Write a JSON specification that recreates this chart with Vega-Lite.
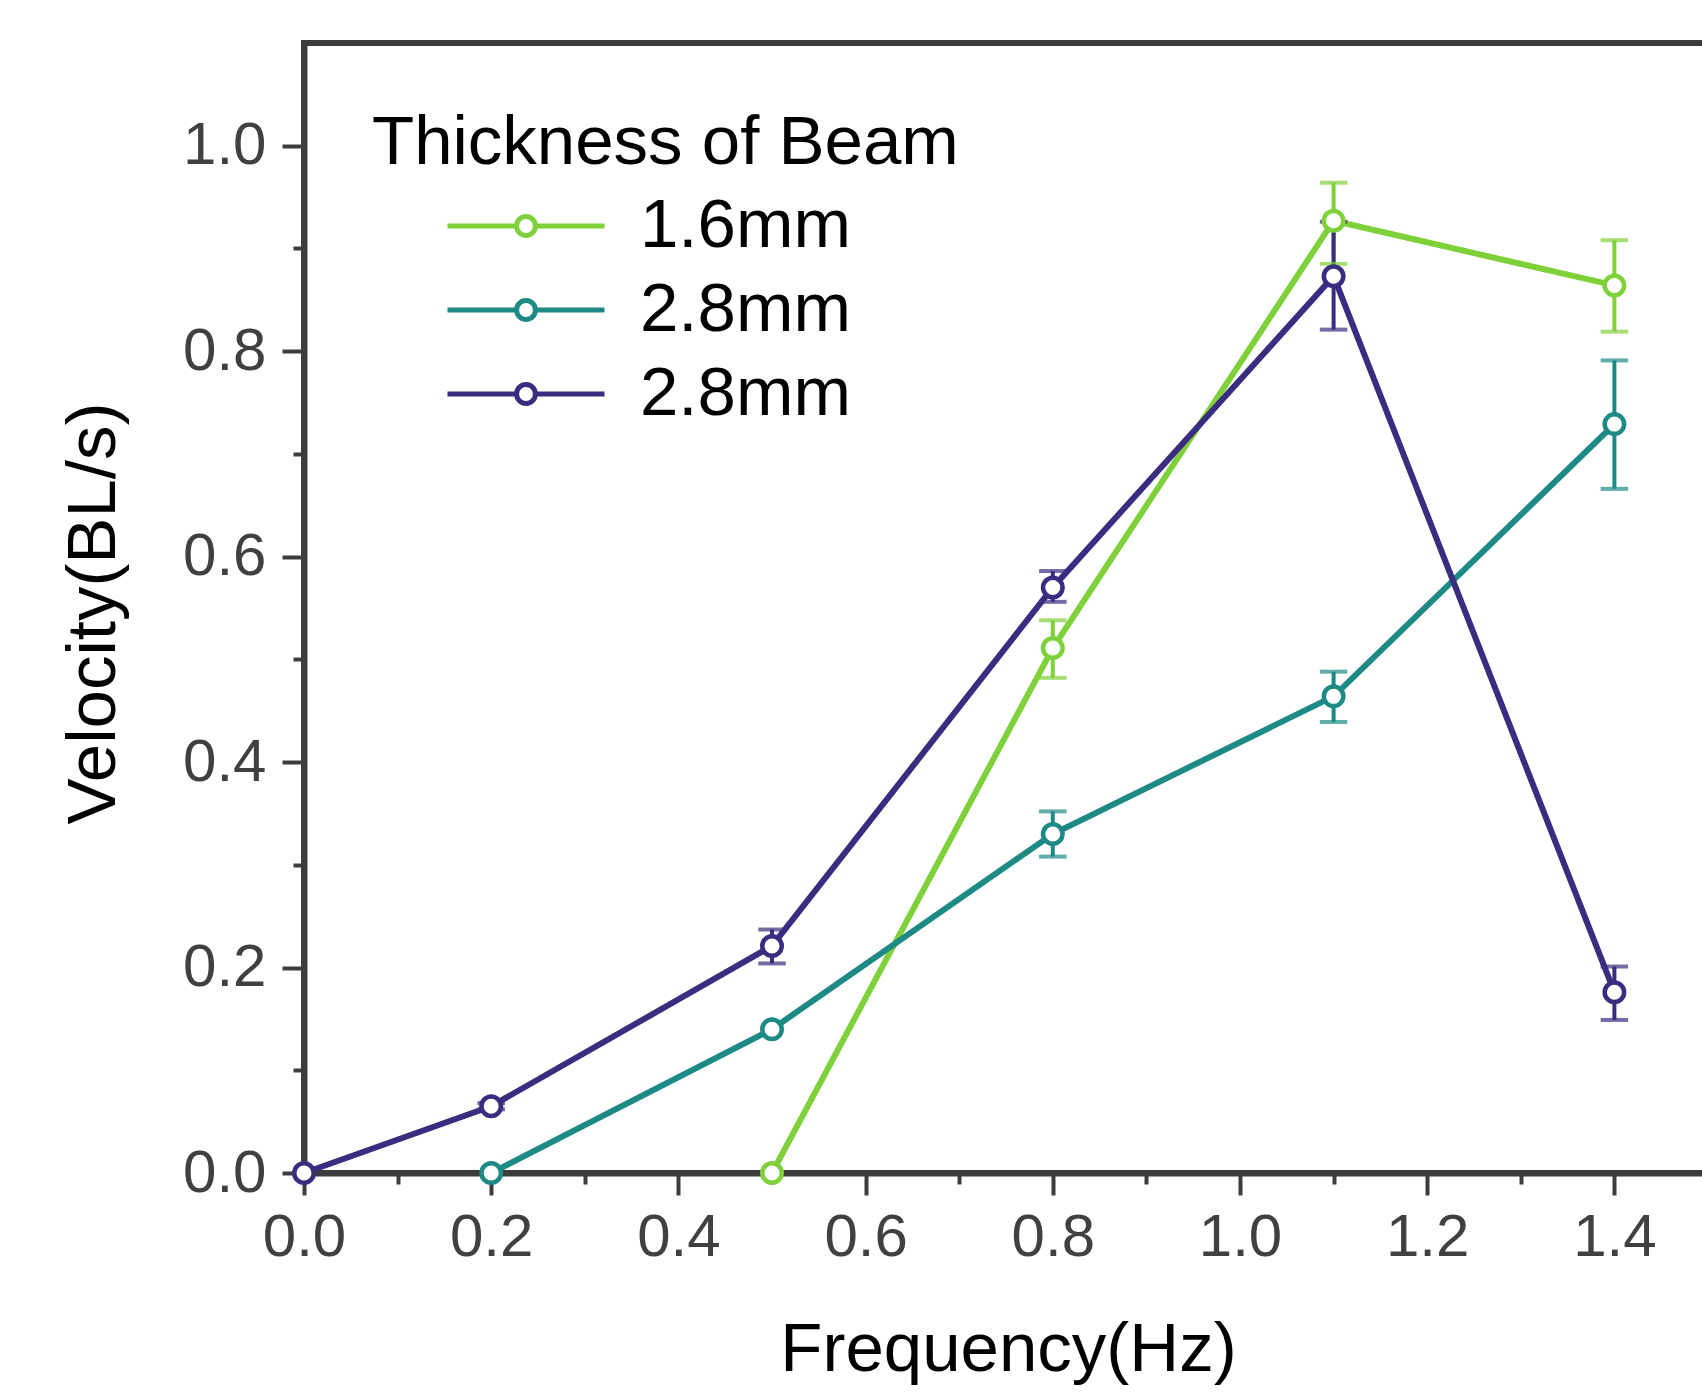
{
  "$schema": "https://vega.github.io/schema/vega-lite/v6.json",
  "width": 1404,
  "height": 1130,
  "autosize": "none",
  "padding": {"left": 304, "top": 43, "right": 0, "bottom": 222},
  "background": "white",
  "data": {
    "values": [
      {"f": 0.5, "v": 0, "s": "1.6mm"},
      {"f": 0.8, "v": 0.511, "lo": 0.482, "hi": 0.538, "s": "1.6mm"},
      {"f": 1.1, "v": 0.927, "lo": 0.885, "hi": 0.964, "s": "1.6mm"},
      {"f": 1.4, "v": 0.864, "lo": 0.819, "hi": 0.908, "s": "1.6mm"},
      {"f": 0.2, "v": 0, "s": "2.8mm"},
      {"f": 0.5, "v": 0.14, "s": "2.8mm"},
      {"f": 0.8, "v": 0.33, "lo": 0.308, "hi": 0.352, "s": "2.8mm"},
      {"f": 1.1, "v": 0.464, "lo": 0.439, "hi": 0.488, "s": "2.8mm"},
      {"f": 1.4, "v": 0.729, "lo": 0.666, "hi": 0.791, "s": "2.8mm"},
      {"f": 0, "v": 0, "s": "2.8mm (2)"},
      {"f": 0.2, "v": 0.065, "lo": 0.062, "hi": 0.068, "s": "2.8mm (2)"},
      {"f": 0.5, "v": 0.221, "lo": 0.204, "hi": 0.237, "s": "2.8mm (2)"},
      {"f": 0.8, "v": 0.57, "lo": 0.556, "hi": 0.586, "s": "2.8mm (2)"},
      {"f": 1.1, "v": 0.873, "lo": 0.821, "hi": 0.926, "s": "2.8mm (2)"},
      {"f": 1.4, "v": 0.176, "lo": 0.149, "hi": 0.201, "s": "2.8mm (2)"}
    ]
  },
  "layer": [
    {
      "mark": {"type": "line", "strokeWidth": 6},
      "encoding": {
        "x": {
          "field": "f", "type": "quantitative",
          "scale": {"domain": [0, 1.5], "nice": false, "zero": false},
          "axis": {
            "orient": "bottom",
            "values": [0, 0.2, 0.4, 0.6, 0.8, 1.0, 1.2, 1.4],
            "format": ".1f", "tickSize": 22, "labelPadding": 13, "labelFontSize": 60,
            "title": "Frequency(Hz)", "titleFontSize": 69, "titleX": 704, "titleY": 197,
            "titleBaseline": "alphabetic", "titleAlign": "center"
          }
        },
        "y": {
          "field": "v", "type": "quantitative",
          "scale": {"domain": [0, 1.1], "nice": false},
          "axis": {
            "orient": "left",
            "values": [0, 0.2, 0.4, 0.6, 0.8, 1.0],
            "format": ".1f", "tickSize": 22, "labelPadding": 16, "labelFontSize": 60,
            "title": "Velocity(BL/s)", "titleFontSize": 69, "titleX": -190, "titleY": 570,
            "titleAngle": 270, "titleBaseline": "alphabetic", "titleAlign": "center"
          }
        },
        "color": {
          "field": "s", "type": "nominal",
          "scale": {"domain": ["1.6mm", "2.8mm", "2.8mm (2)"], "range": ["#7fd13b", "#1e8a86", "#3a2d80"]},
          "legend": {
            "orient": "none", "legendX": 68, "legendY": 66, "direction": "vertical",
            "title": "Thickness of Beam", "titleFontSize": 69, "titleFontWeight": "normal",
            "titleColor": "black", "titlePadding": 18, "titleLimit": 0,
            "labelFontSize": 69, "labelColor": "black", "labelOffset": 33, "labelLimit": 0,
            "labelExpr": "datum.label == '2.8mm (2)' ? '2.8mm' : datum.label",
            "symbolType": "M-1,0L-0.12,0M0.12,0L1,0M-0.12,0A0.12,0.12,0,1,1,0.12,0A0.12,0.12,0,1,1,-0.12,0Z",
            "symbolSize": 24649, "symbolStrokeWidth": 5, "symbolFillColor": "white",
            "symbolOffset": 73, "clipHeight": 60, "rowPadding": 15, "padding": 0,
            "encode": {"symbols": {"update": {"fill": {"value": "white"}, "strokeWidth": {"value": 5}}}}
          }
        }
      }
    },
    {
      "transform": [{"filter": "isValid(datum.lo)"}],
      "mark": {"type": "rule", "strokeWidth": 4},
      "encoding": {
        "x": {
          "field": "f", "type": "quantitative",
          "axis": {"orient": "bottom", "values": [0.1, 0.3, 0.5, 0.7, 0.9, 1.1, 1.3], "labels": false, "domain": false, "tickSize": 11, "title": null}
        },
        "y": {
          "field": "lo", "type": "quantitative",
          "axis": {"orient": "left", "values": [0.1, 0.3, 0.5, 0.7, 0.9], "labels": false, "domain": false, "tickSize": 11, "title": null}
        },
        "y2": {"field": "hi"},
        "color": {"field": "s", "type": "nominal"}
      }
    },
    {
      "transform": [{"filter": "isValid(datum.lo)"}],
      "mark": {"type": "tick", "orient": "horizontal", "size": 24, "thickness": 0.5, "filled": false, "strokeWidth": 3.5},
      "encoding": {
        "x": {"field": "f", "type": "quantitative", "axis": null},
        "y": {"field": "lo", "type": "quantitative", "axis": null},
        "color": {"field": "s", "type": "nominal"}
      }
    },
    {
      "transform": [{"filter": "isValid(datum.hi)"}],
      "mark": {"type": "tick", "orient": "horizontal", "size": 24, "thickness": 0.5, "filled": false, "strokeWidth": 3.5},
      "encoding": {
        "x": {"field": "f", "type": "quantitative", "axis": null},
        "y": {"field": "hi", "type": "quantitative", "axis": null},
        "color": {"field": "s", "type": "nominal"}
      }
    },
    {
      "mark": {"type": "point", "shape": "circle", "size": 380, "strokeWidth": 4.5, "filled": false, "fill": "white", "opacity": 1},
      "encoding": {
        "x": {"field": "f", "type": "quantitative", "axis": null},
        "y": {"field": "v", "type": "quantitative", "axis": null},
        "color": {"field": "s", "type": "nominal"}
      }
    }
  ],
  "resolve": {"axis": {"x": "independent", "y": "independent"}},
  "config": {
    "font": "Liberation Sans",
    "view": {"stroke": "#3c3c3c", "strokeWidth": 6},
    "axis": {
      "domainColor": "#3c3c3c", "domainWidth": 6, "tickColor": "#3c3c3c", "tickWidth": 4,
      "labelColor": "#404040", "labelFont": "Liberation Sans", "titleFont": "Liberation Sans",
      "titleColor": "black", "titleFontWeight": "normal", "grid": false, "labelFlush": false,
      "labelOverlap": false, "zindex": 1
    },
    "legend": {"labelFont": "Liberation Sans", "titleFont": "Liberation Sans"}
  }
}
